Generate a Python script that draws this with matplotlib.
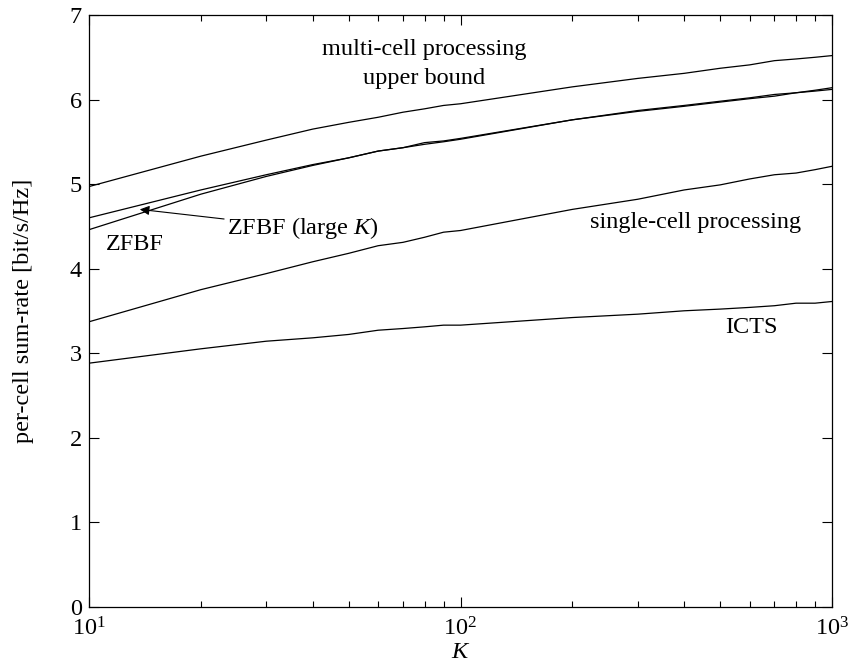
import matplotlib.pyplot as plt
import numpy as np

plt.rcParams['font.family'] = ['Liberation Serif', 'DejaVu Serif']
plt.rcParams['mathtext.fontset'] = 'custom'
plt.rcParams['mathtext.rm'] = 'Liberation Serif'
plt.rcParams['mathtext.it'] = 'Liberation Serif:italic'

# number of users per cell
K = [10, 20, 30, 40, 50, 60, 70, 80, 90, 100,
     200, 300, 400, 500, 600, 700, 800, 900, 1000]

# per-cell sum-rate [bit/s/Hz]
upper_bound = [4.97, 5.33, 5.52, 5.65, 5.73, 5.79, 5.85, 5.89, 5.93, 5.95,
               6.15, 6.25, 6.31, 6.37, 6.41, 6.46, 6.48, 6.50, 6.52]
zfbf = [4.60, 4.93, 5.11, 5.23, 5.31, 5.39, 5.43, 5.47, 5.50, 5.53,
        5.76, 5.86, 5.92, 5.97, 6.01, 6.04, 6.08, 6.11, 6.14]
zfbf_large = [4.46, 4.88, 5.09, 5.22, 5.31, 5.39, 5.43, 5.49, 5.51, 5.54,
              5.76, 5.87, 5.93, 5.98, 6.02, 6.06, 6.08, 6.10, 6.12]
single_cell = [3.37, 3.75, 3.94, 4.08, 4.18, 4.27, 4.31, 4.37, 4.43, 4.45,
               4.70, 4.82, 4.93, 4.99, 5.06, 5.11, 5.13, 5.17, 5.21]
icts = [2.88, 3.05, 3.14, 3.18, 3.22, 3.27, 3.29, 3.31, 3.33, 3.33,
        3.42, 3.46, 3.50, 3.52, 3.54, 3.56, 3.59, 3.59, 3.61]

fs = 17.5

fig = plt.figure(figsize=(8.56, 6.68), dpi=100)
ax = fig.add_axes([0.104, 0.092, 0.868, 0.8855])

for y in [upper_bound, zfbf, zfbf_large, single_cell, icts]:
    ax.plot(K, y, color='k', linewidth=0.9)

ax.set_xscale('log')
ax.set_xlim(10, 1000)
ax.set_ylim(0, 7)
ax.set_yticks(range(8))

ax.tick_params(which='both', direction='in', top=True, right=True,
               labelsize=fs, width=0.8)
ax.tick_params(which='major', length=7)
ax.tick_params(which='minor', length=4)
ax.tick_params(axis='x', which='major', pad=8)
ax.tick_params(axis='y', which='major', pad=5)
for s in ax.spines.values():
    s.set_linewidth(0.9)

ax.set_xlabel('$K$', fontsize=fs, labelpad=1)
ax.set_ylabel('per-cell sum-rate [bit/s/Hz]', fontsize=fs, labelpad=26)

ax.text(80, 6.42, 'multi-cell processing\nupper bound', fontsize=fs,
        ha='center', va='center', multialignment='center', linespacing=1.45)
ax.text(11.1, 4.29, 'ZFBF', fontsize=fs, ha='left', va='center')
ax.text(223, 4.55, 'single-cell processing', fontsize=fs, ha='left', va='center')
ax.text(515, 3.30, 'ICTS', fontsize=fs, ha='left', va='center')
ax.annotate('ZFBF (large $K$)', xy=(13.7, 4.70), xytext=(23.5, 4.48),
            fontsize=fs, ha='left', va='center',
            arrowprops=dict(arrowstyle='-|>', color='k', lw=0.8,
                            mutation_scale=14, shrinkA=0, shrinkB=0))

plt.savefig('out.png', dpi=100, facecolor='white')
plt.close()
